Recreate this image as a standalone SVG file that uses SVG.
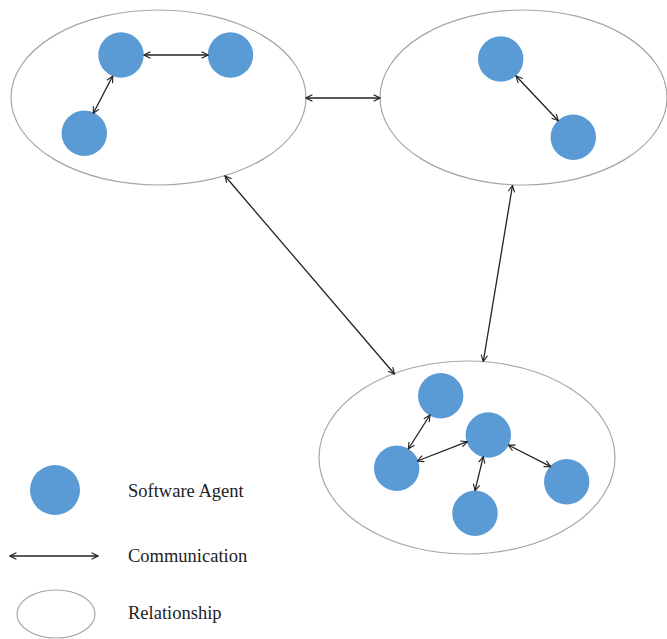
<svg xmlns="http://www.w3.org/2000/svg" width="667" height="639" viewBox="0 0 667 639">
<defs>
<style>
.rel{fill:#fff;stroke:#a6a6a6;stroke-width:1.2}
.agent{fill:#5b9bd5;stroke:none}
.com{stroke:#222;stroke-width:1.3;fill:none;marker-start:url(#ah);marker-end:url(#ah)}
.lbl{font-family:"Liberation Serif","Times New Roman",serif;font-size:18.5px;fill:#222}
</style>
<marker id="ah" viewBox="0 0 10 10" refX="9" refY="5" markerWidth="8" markerHeight="8" markerUnits="userSpaceOnUse" orient="auto-start-reverse">
<path d="M1,1 L9,5 L1,9" fill="none" stroke="#222" stroke-width="1.4"/>
</marker>
</defs>
<rect width="667" height="639" fill="#fff"/>
<g id="relationship1"><ellipse class="rel" cx="158.5" cy="97.5" rx="147.5" ry="87.5"/></g>
<g id="relationship2"><ellipse class="rel" cx="523.5" cy="97.5" rx="143.5" ry="87.5"/></g>
<g id="relationship3"><ellipse class="rel" cx="467" cy="457.5" rx="148" ry="96.5"/></g>
<g id="agent1"><circle class="agent" cx="121" cy="55" r="22.7"/></g>
<g id="agent2"><circle class="agent" cx="230.5" cy="55" r="22.7"/></g>
<g id="agent3"><circle class="agent" cx="84.3" cy="133.3" r="22.7"/></g>
<g id="agent4"><circle class="agent" cx="500.7" cy="59" r="22.7"/></g>
<g id="agent5"><circle class="agent" cx="573.3" cy="137.3" r="22.7"/></g>
<g id="agent6"><circle class="agent" cx="440.7" cy="395.7" r="22.7"/></g>
<g id="agent7"><circle class="agent" cx="488.3" cy="435" r="22.7"/></g>
<g id="agent8"><circle class="agent" cx="396.7" cy="468.3" r="22.7"/></g>
<g id="agent9"><circle class="agent" cx="475" cy="513.3" r="22.7"/></g>
<g id="agent10"><circle class="agent" cx="566.7" cy="481.7" r="22.7"/></g>
<g id="connectors">
<line class="com" x1="144" y1="55" x2="208" y2="55"/>
<line class="com" x1="112.7" y1="76" x2="93.3" y2="113.3"/>
<line class="com" x1="516" y1="76" x2="558.3" y2="120.7"/>
<line class="com" x1="306" y1="98" x2="380" y2="98"/>
<line class="com" x1="225" y1="176" x2="394.5" y2="374"/>
<line class="com" x1="512.5" y1="185.5" x2="483.3" y2="361.5"/>
<line class="com" x1="430" y1="415" x2="408.3" y2="449"/>
<line class="com" x1="417.3" y1="461" x2="467.3" y2="441.7"/>
<line class="com" x1="483.3" y1="456.7" x2="475" y2="490.7"/>
<line class="com" x1="508.3" y1="445" x2="550.7" y2="466.7"/>
</g>
<g id="legend">
<circle class="agent" cx="55" cy="490" r="25"/>
<text class="lbl" x="128" y="496.7">Software Agent</text>
<line class="com" x1="10" y1="556" x2="98" y2="556"/>
<text class="lbl" x="128" y="561.7">Communication</text>
<ellipse class="rel" cx="56" cy="614" rx="39" ry="24"/>
<text class="lbl" x="128" y="619.3">Relationship</text>
</g>
</svg>
